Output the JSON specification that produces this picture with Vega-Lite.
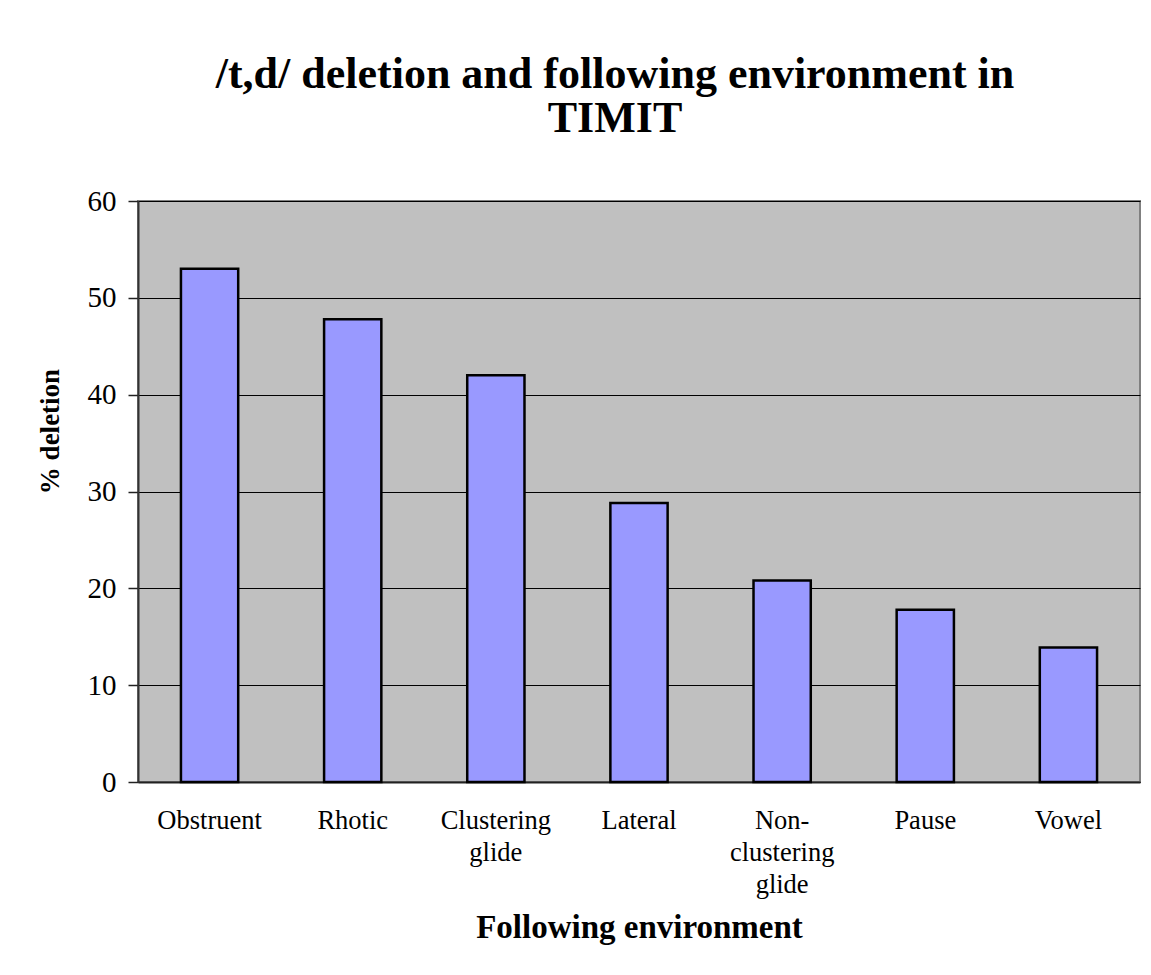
{
  "$schema": "https://vega.github.io/schema/vega-lite/v6.json",
  "autosize": "none",
  "width": 1002,
  "height": 581,
  "padding": {"left": 138, "top": 201, "right": 11, "bottom": 193},
  "background": "white",
  "title": {
    "text": ["/t,d/ deletion and following environment in", "TIMIT"],
    "font": "Liberation Serif",
    "fontSize": 44,
    "fontWeight": "bold",
    "color": "black",
    "lineHeight": 44,
    "anchor": "middle",
    "dx": -24,
    "offset": 46
  },
  "data": {
    "values": [
      {"environment": "Obstruent", "deletion": 53.0},
      {"environment": "Rhotic", "deletion": 47.8},
      {"environment": "Clustering glide", "deletion": 42.0},
      {"environment": "Lateral", "deletion": 28.8},
      {"environment": "Non-clustering glide", "deletion": 20.8},
      {"environment": "Pause", "deletion": 17.8},
      {"environment": "Vowel", "deletion": 13.9}
    ]
  },
  "mark": {"type": "bar", "fill": "#9999FF", "stroke": "black", "strokeWidth": 2.5},
  "encoding": {
    "x": {
      "field": "environment",
      "type": "nominal",
      "sort": null,
      "scale": {"paddingInner": 0.6, "paddingOuter": 0.3},
      "axis": {
        "title": "Following environment",
        "titleFont": "Liberation Serif",
        "titleFontSize": 33,
        "titleFontWeight": "bold",
        "titleColor": "black",
        "titleBaseline": "alphabetic",
        "titleY": 155,
        "labelFont": "Liberation Serif",
        "labelFontSize": 26.5,
        "labelColor": "black",
        "labelAngle": 0,
        "labelBaseline": "top",
        "labelLineHeight": 32,
        "labelPadding": 25,
        "labelLimit": 0,
        "labelExpr": "datum.value == 'Clustering glide' ? ['Clustering', 'glide'] : datum.value == 'Non-clustering glide' ? ['Non-', 'clustering', 'glide'] : datum.value",
        "ticks": false,
        "domainColor": "#222222",
        "domainWidth": 2,
        "grid": false
      }
    },
    "y": {
      "field": "deletion",
      "type": "quantitative",
      "scale": {"domain": [0, 60], "nice": false},
      "axis": {
        "title": "% deletion",
        "titleFont": "Liberation Serif",
        "titleFontSize": 27,
        "titleFontWeight": "bold",
        "titleColor": "black",
        "titleBaseline": "middle",
        "titleX": -88,
        "titleY": 230,
        "values": [0, 10, 20, 30, 40, 50, 60],
        "labelFont": "Liberation Serif",
        "labelFontSize": 29,
        "labelColor": "black",
        "labelPadding": 12,
        "tickSize": 10,
        "tickColor": "#222222",
        "tickWidth": 1.5,
        "domainColor": "#333333",
        "domainWidth": 2,
        "grid": true,
        "gridColor": "black",
        "gridWidth": 1.2,
        "gridOpacity": 1
      }
    }
  },
  "config": {
    "view": {"fill": "#C0C0C0", "stroke": "#808080", "strokeWidth": 2}
  }
}
